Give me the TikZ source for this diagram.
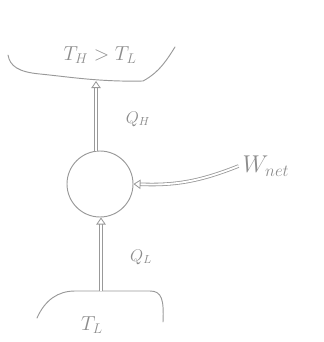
\documentclass[tikz,border=0pt]{standalone}
\usetikzlibrary{arrows.meta}
\tikzset{
  sketch/.style={draw=gray!80, line width=0.8pt, line cap=round},
  flow/.style={gray!80, double=white, double distance=1.6pt, line width=0.7pt, -{Triangle[open, length=6pt, width=8pt]}},
  lbl/.style={text=gray!90}
}
\begin{document}
\begin{tikzpicture}[x=0.03cm, y=-0.03cm]
  \useasboundingbox (0,0) rectangle (323,342);
  % hot reservoir
  \draw[sketch] (8,55) .. controls (10,66) and (18,72) .. (40,74) .. controls (70,77) and (100,82) .. (143,81) .. controls (160,72) and (168,58) .. (175,47);
  \node[lbl, font=\LARGE] (hot) at (100,55) {$T_H > T_L$};
  \coordinate (hotbot) at (96,81);
  % cold reservoir
  \draw[sketch] (37,318) .. controls (45,300) and (58,291) .. (75,291) -- (150,291) .. controls (162,291) and (164,300) .. (163,322);
  \node[lbl, font=\LARGE] (cold) at (92,325) {$T_L$};
  \coordinate (coldtop) at (101,291);
  % engine
  \node[sketch, circle, minimum size=1.98cm, inner sep=0pt] (eng) at (100,184) {};
  \node[lbl, font=\Large] (qh) at (138,119) {$Q_H$};
  \node[lbl, font=\Large] (ql) at (141,257) {$Q_L$};
  \node[lbl, font=\huge] (wnet) at (266,166) {$W_{net}$};
  \draw[flow] (eng.north -| hotbot) -- (hotbot);
  \draw[flow] (coldtop) -- (coldtop |- eng.south);
  \draw[flow] (wnet.west) to[bend left=12] (eng.east);
\end{tikzpicture}
\end{document}
